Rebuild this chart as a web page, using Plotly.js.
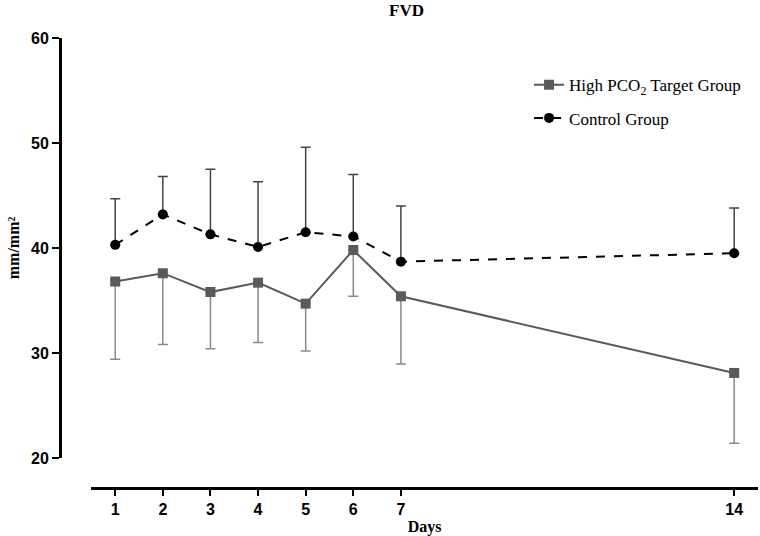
<!DOCTYPE html>
<html>
<head>
<meta charset="utf-8">
<script src="https://cdn.plot.ly/plotly-3.0.1.min.js"></script>
<style>html,body{margin:0;padding:0;background:#fff;}#chart{width:760px;height:536px;}</style>
</head>
<body>
<div id="chart"></div>
<script>
var days = [1, 2, 3, 4, 5, 6, 7, 14];
var tickLabels = ["1", "2", "3", "4", "5", "6", "7", "14"];
var controlMean = [40.3, 43.2, 41.3, 40.1, 41.5, 41.1, 38.7, 39.5];
var controlErr  = [4.4, 3.6, 6.2, 6.2, 8.1, 5.9, 5.3, 4.3];
var pco2Mean = [36.8, 37.6, 35.8, 36.7, 34.7, 39.8, 35.4, 28.1];
var pco2Err  = [7.4, 6.8, 5.4, 5.7, 4.5, 4.4, 6.45, 6.7];
var zeros = days.map(function(){ return 0; });

var traces = [
  {
    x: days, y: pco2Mean, type: 'scatter', mode: 'lines+markers',
    name: 'High PCO<sub>2</sub> Target Group', legendgroup: 'a',
    line: {color: '#5a5a5a', width: 2},
    marker: {symbol: 'square', size: 10, color: '#5a5a5a'},
    error_y: {type: 'data', symmetric: false, array: zeros, arrayminus: pco2Err,
              color: '#8a8a8a', thickness: 1.5, width: 5}
  },
  {
    x: days, y: controlMean, type: 'scatter', mode: 'lines+markers',
    name: 'Control Group', legendgroup: 'b',
    line: {color: '#000', width: 2, dash: 'dash'},
    marker: {symbol: 'circle', size: 10, color: '#000'},
    error_y: {type: 'data', symmetric: false, array: controlErr, arrayminus: zeros,
              color: '#444', thickness: 1.5, width: 5}
  }
];

var layout = {
  width: 760, height: 536,
  margin: {l: 60, r: 2, t: 38, b: 48},
  paper_bgcolor: '#fff', plot_bgcolor: '#fff',
  showlegend: true,
  title: {text: '<b>FVD</b>', x: 0.535, xanchor: 'center', y: 0.982, yanchor: 'middle',
          font: {family: 'Liberation Serif, serif', size: 17, color: '#000'}},
  legend: {x: 0.672, y: 0.935, xanchor: 'left', yanchor: 'top',
           traceorder: 'grouped', tracegroupgap: 8,
           font: {family: 'Liberation Serif, serif', size: 17, color: '#000'},
           bgcolor: 'rgba(0,0,0,0)'},
  xaxis: {
    domain: [0.045, 1], range: [0.5, 14.5], anchor: 'free', position: 0,
    tickmode: 'array', tickvals: days, ticktext: tickLabels,
    showgrid: false, zeroline: false, showline: true, linecolor: '#000', linewidth: 2.5,
    ticks: 'outside', ticklen: 6, tickwidth: 2, tickcolor: '#000',
    tickfont: {family: 'Liberation Sans, Arial, sans-serif', size: 16, color: '#000', weight: 'bold'},
    title: {text: '<b>Days</b>', standoff: 4, font: {family: 'Liberation Serif, serif', size: 16, color: '#000'}}
  },
  yaxis: {
    domain: [0.0667, 1], range: [20, 60], anchor: 'free', position: 0,
    tickvals: [20, 30, 40, 50, 60],
    showgrid: false, zeroline: false, showline: true, linecolor: '#000', linewidth: 2.5,
    ticks: 'outside', ticklen: 7, tickwidth: 2, tickcolor: '#000',
    tickfont: {family: 'Liberation Sans, Arial, sans-serif', size: 16, color: '#000', weight: 'bold'},
    title: {text: '<b>mm/mm²</b>', standoff: 6, font: {family: 'Liberation Serif, serif', size: 16, color: '#000'}}
  }
};

Plotly.newPlot('chart', traces, layout, {displayModeBar: false, staticPlot: true});
</script>
</body>
</html>
